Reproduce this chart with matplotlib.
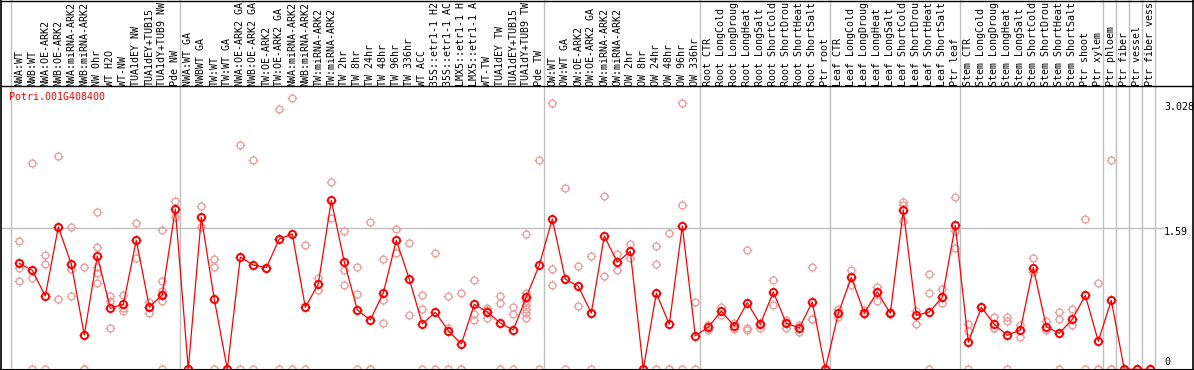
import numpy as np
import matplotlib.pyplot as plt
from matplotlib.path import Path

# sample labels (as visible in the header, top is cut off)
labels = ["NWA:WT", "NWB:WT", "NWA:OE-ARK2", "NWB:OE-ARK2", "NWA:miRNA-ARK2", "NWB:miRNA-ARK2",
          "NW 0hr", "WT H2O", "WT-NW", "TUA1dEY NW", "TUA1dEY+TUB15", "TUA1dY+TUB9 NW", "Pde NW",
          "NWA:WT GA", "NWBWT GA", "TW:WT", "TW:WT GA", "NWA:OE-ARK2 GA", "NWB:OE-ARK2 GA",
          "TW:OE-ARK2", "TW:OE-ARK2 GA", "NWA:miRNA-ARK2", "NWB:miRNA-ARK2", "TW:miRNA-ARK2",
          "TW:miRNA-ARK2", "TW 2hr", "TW 8hr", "TW 24hr", "TW 48hr", "TW 96hr", "TW 336hr",
          "WT ACC", "35S::etr1-1 H2", "35S::etr1-1 AC", "LMX5::etr1-1 H", "LMX5::etr1-1 A",
          "WT-TW", "TUA1dEY TW", "TUA1dEY+TUB15", "TUA1dY+TUB9 TW", "Pde TW",
          "OW:WT", "OW:WT GA", "OW:OE-ARK2", "OW:OE-ARK2 GA", "OW:miRNA-ARK2", "OW:miRNA-ARK2",
          "OW 2hr", "OW 8hr", "OW 24hr", "OW 48hr", "OW 96hr", "OW 336hr",
          "Root CTR", "Root LongCold", "Root LongDroug", "Root LongHeat", "Root LongSalt",
          "Root ShortCold", "Root ShortDrou", "Root ShortHeat", "Root ShortSalt", "Ptr root",
          "Leaf CTR", "Leaf LongCold", "Leaf LongDroug", "Leaf LongHeat", "Leaf LongSalt",
          "Leaf ShortCold", "Leaf ShortDrou", "Leaf ShortHeat", "Leaf ShortSalt", "Ptr leaf",
          "Stem CTR", "Stem LongCold", "Stem LongDroug", "Stem LongHeat", "Stem LongSalt",
          "Stem ShortCold", "Stem ShortDrou", "Stem ShortHeat", "Stem ShortSalt", "Ptr shoot",
          "Ptr xylem", "Ptr phloem", "Ptr fiber", "Ptr vessel", "Ptr fiber vess"]

# first column of each group (grey separators)
group_starts = [0, 13, 41, 53, 63, 73, 84, 85, 86, 87, 88]

# mean expression per sample
means = [1.195, 1.116, 0.827, 1.605, 1.187, 0.387, 1.278, 0.688, 0.733, 1.455, 0.703, 0.838,
         1.808, 0, 1.717, 0.789, 0, 1.266, 1.176, 1.146, 1.469, 1.526,
         0.699, 0.962, 1.906, 1.21, 0.669, 0.556, 0.86, 1.455, 1.018, 0.511, 0.643, 0.435,
         0.285, 0.733, 0.646, 0.522, 0.443, 0.815, 1.176, 1.695, 1.018, 0.936, 0.635,
         1.503, 1.207, 1.331, 0, 0.86, 0.507, 1.616, 0.376, 0.477, 0.654, 0.488, 0.751, 0.507,
         0.872, 0.519, 0.466, 0.759, 0, 0.632, 1.037, 0.635, 0.872,
         0.632, 1.793, 0.609, 0.646, 0.812, 1.624, 0.304, 0.699, 0.507, 0.383, 0.443, 1.146,
         0.48, 0.406, 0.564, 0.834, 0.316, 0.778, 0, 0, 0]

# replicate values per sample
reps = [[1.443, 1.139, 0.996], [2.326, 1.033, 0], [1.289, 1.184, 0], [2.405, 1.601, 0.789],
        [1.601, 1.128, 0.827], [1.154, 0, 0], [1.774, 1.379, 1.157, 1.089, 0.97],
        [0.827, 0.770, 0.466], [0.838, 0.688, 0.657], [1.646, 1.455, 1.259],
        [0.759, 0.703, 0.638], [1.571, 0.996, 0.883, 0.846, 0.770, 0], [1.898, 1.717], [0, 0],
        [1.841, 1.605], [1.244, 1.150, 0], [0, 0], [2.529, 0], [2.36, 0], [1.146, 1.146],
        [2.935, 1.47, 0], [3.06, 0],
        [1.398, 0], [1.026, 0.894], [2.109, 1.703], [1.56, 1.116, 0.951], [1.154, 0.846, 0],
        [1.657, 0, 0], [1.24, 0.781, 0.519], [1.582, 1.315], [1.421, 0.609], [0.838, 0.684, 0],
        [1.308, 0], [0.827, 0.466, 0], [0.86, 0, 0], [1.004, 0.624, 0.556], [0.69, 0.669, 0.582],
        [0.83, 0.744, 0], [0.703, 0.624, 0],
        [1.522, 0.864, 0.819, 0.774, 0.725, 0.68, 0.632, 0.578], [2.36, 0],
        [3.0, 1.128, 0.951], [2.044, 0], [1.165, 0.714], [1.278, 0],
        [1.951, 1.052], [1.297, 1.116], [1.413, 1.252], [0, 0], [1.387, 1.184, 0], [1.533, 0, 0],
        [3.0, 1.849, 0], [0.755, 0], [0.5, 0.443], [0.699, 0.616], [0.519, 0.454],
        [1.342, 0.47, 0.443], [0.519, 0.466], [1.004, 0.722], [0.556, 0.469], [0.5, 0.424],
        [1.15, 0.564, 0.564], [0, 0], [0.68, 0.586], [1.116, 0.947], [0.669, 0.624],
        [0.928, 0.774],
        [0.646, 0.624], [1.883, 1.853, 1.676], [0.654, 0.507], [1.071, 0.86, 0],
        [0.902, 0.812, 0.751], [1.94, 1.563, 1.364], [0.507, 0.432, 0], [0.699, 0.699],
        [0.586, 0.47, 0.466], [0.586, 0.548, 0], [0.496, 0.368], [1.252, 1.094], [0.545, 0.443],
        [0.646, 0.571, 0], [0.677, 0.496], [1.691, 0], [0.973, 0, 0], [2.357, 0, 0],
        [0, 0], [0, 0], [0, 0]]

yticks = [0, 1.59, 3.028]
gene = "Potri.001G408400"

# pixel geometry of the original picture
W, H = 1194, 370
col_w = 13.0
x_first = 19.3      # pixel x of first column
y_zero = 369.3      # pixel y of value 0
px_per_unit = 88.68
y_header = 85.7     # header bottom line

def xv(px):
    return (px - x_first) / col_w

def yv(py):
    return (y_zero - py) / px_per_unit

# little ticks sticking out of the circle markers
tick = Path([(0, 1), (0, 1.4), (0, -1), (0, -1.4), (1, 0), (1.4, 0), (-1, 0), (-1.4, 0)],
            [Path.MOVETO, Path.LINETO] * 4)

def dots(ax, xs, ys, col, size, lw, z):
    ax.plot(xs, ys, linestyle="none", marker="o", markersize=size, markerfacecolor="none",
            markeredgecolor=col, markeredgewidth=lw, zorder=z)
    ax.plot(xs, ys, linestyle="none", marker=tick, markersize=size * 1.3,
            markerfacecolor="none", markeredgecolor=col, markeredgewidth=0.7, zorder=z)

fig = plt.figure(figsize=(W / 100, H / 100), dpi=100)
ax = fig.add_axes([0, 0, 1, 1])
ax.set_xlim(xv(0), xv(W))
ax.set_ylim(yv(H), yv(0))
ax.axis('off')

mono = "DejaVu Sans Mono"
grey = "#c0c0c0"
head = yv(y_header)

# grey separators, full height
for k in group_starts:
    ax.axvline(k - 0.61, color=grey, lw=1.0, zorder=1)
# grid line at middle tick
ax.plot([xv(1), xv(1163)], [yticks[1], yticks[1]], color=grey, lw=1.0, zorder=1)

# frame
ax.axhline(head, color="black", lw=1.0, zorder=5)
ax.axhline(yv(369.6), color="black", lw=1.5, zorder=5)
ax.axhline(yv(0.5), color="black", lw=1.0, zorder=5)
ax.axvline(xv(1.0), color="black", lw=1.2, zorder=5)
ax.axvline(xv(1193.3), color="black", lw=1.2, zorder=5)

# replicates
rx = np.concatenate([[i] * len(r) for i, r in enumerate(reps)])
ry = np.concatenate([r for r in reps])
dots(ax, rx, ry, "#ea9f9f", 5.0, 1.0, 2)

# mean line
x = np.arange(len(means))
ax.plot(x, means, color="red", lw=0.9, zorder=3)
dots(ax, x, means, "red", 5.2, 1.4, 4)

# header labels
for i, lab in enumerate(labels):
    ax.text(i, head, lab, rotation=90, ha="center", va="bottom", fontsize=7.2,
            family=mono, color="black", zorder=6)

# right tick labels
offs = {0: 7.0, 1.59: -4.0, 3.028: -6.5}
for v in yticks:
    ax.annotate(("%g" % v), xy=(xv(1164), v), xytext=(0, offs[v] * 0.72),
                textcoords="offset points", ha="left", va="center",
                fontsize=7.2, family=mono, color="black")

fig.text(9.3 / W, 1 - 96.7 / H, gene, ha="left", va="center", fontsize=7.2,
         family=mono, color="red")

fig.savefig("out.png", dpi=100)
